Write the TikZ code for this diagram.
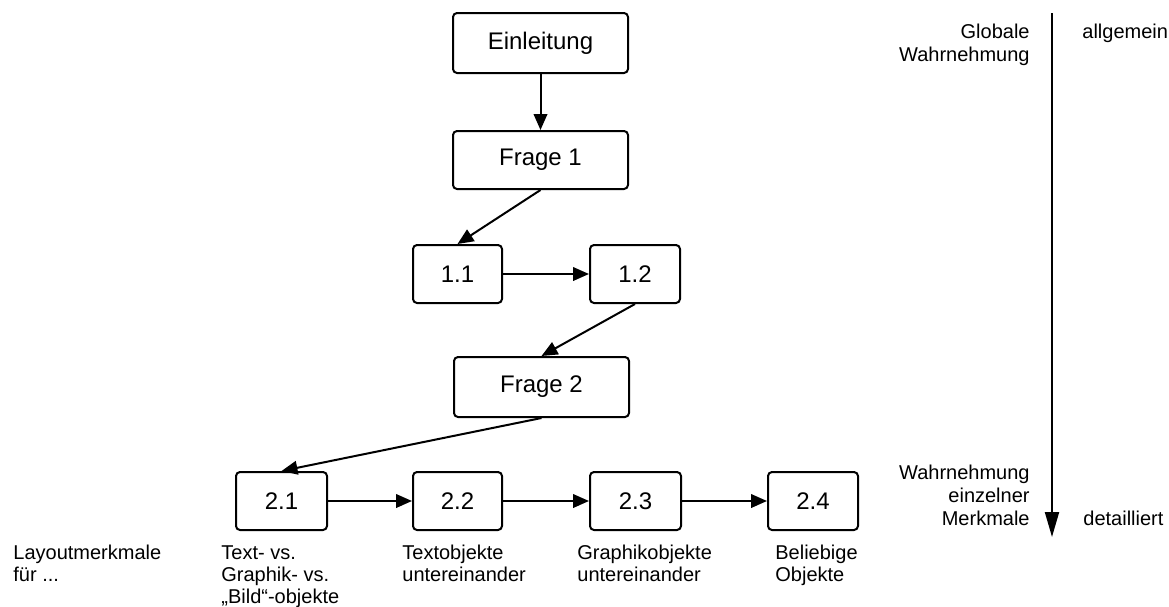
\documentclass[tikz,border=0pt]{standalone}
\usepackage{fontspec}
\setmainfont{Liberation Sans}
\usetikzlibrary{arrows.meta}
\begin{document}
\begin{tikzpicture}[x=0.5pt,y=-0.5pt,
  flowbox/.style={draw, line width=1pt, rounded corners=2pt,
    minimum width=#1, minimum height=29pt, inner sep=0pt,
    font=\fontsize{12}{14}\selectfont},
  link/.style={line width=1pt, -{Triangle[length=8pt,width=6.8pt]}},
  caption/.style={inner sep=0pt, align=left, anchor=base west,
    font=\fontsize{10}{10.9}\selectfont},
  scalelab/.style={inner sep=0pt, font=\fontsize{10}{11.5}\selectfont}]
\useasboundingbox (0,0) rectangle (1169,606);

% flow of questions
\node[flowbox=87.5pt, minimum height=30pt] (ein) at (540.5,43) {Einleitung};
\node[flowbox=87.5pt] (f1) at (540.5,160) {Frage 1};
\node[flowbox=44.5pt] (q11) at (457.5,274) {1.1};
\node[flowbox=45pt] (q12) at (635,274) {1.2};
\node[flowbox=87.5pt, minimum height=30pt] (f2) at (541.5,387) {Frage 2};
\node[flowbox=45.5pt] (q21) at (281.5,501) {2.1};
\node[flowbox=44.5pt] (q22) at (457.5,501) {2.2};
\node[flowbox=45.5pt] (q23) at (635.5,501) {2.3};
\node[flowbox=45pt] (q24) at (813,501) {2.4};

\draw[link] (ein) -- (f1);
\draw[link] (f1.south) -- (q11.north);
\draw[link] (q11) -- (q12);
\draw[link] (q12.south) -- (f2.north);
\draw[link] (f2.south) -- (q21.north);
\draw[link] (q21) -- (q22);
\draw[link] (q22) -- (q23);
\draw[link] (q23) -- (q24);

% captions below the second row (anchored at the baseline of the last line)
\node[caption] (lm) at (13,581.5) {Layoutmerkmale\\für ...};
\node[caption] (c21) at (221,603) {Text- vs.\\Graphik- vs.\\„Bild“-objekte};
\node[caption] (c22) at (402,581.5) {Textobjekte\\untereinander};
\node[caption] (c23) at (577,581.5) {Graphikobjekte\\untereinander};
\node[caption] (c24) at (775,581.5) {Beliebige\\Objekte};

% scale from global to detailed perception
\coordinate (stop) at (1052,13);
\coordinate (sbot) at (1052,537);
\draw[line width=1pt, -{Triangle[length=12.5pt,width=7pt]}] (stop) -- (sbot);
\node[scalelab, align=right, anchor=base east] (glob) at (1030,61) {Globale\\Wahrnehmung};
\node[scalelab, anchor=base west] (allg) at (1082,38) {allgemein};
\node[scalelab, align=right, anchor=base east] (einz) at (1030,525) {Wahrnehmung\\einzelner\\Merkmale};
\node[scalelab, anchor=base west] (det) at (1083,525) {detailliert};
\end{tikzpicture}
\end{document}
